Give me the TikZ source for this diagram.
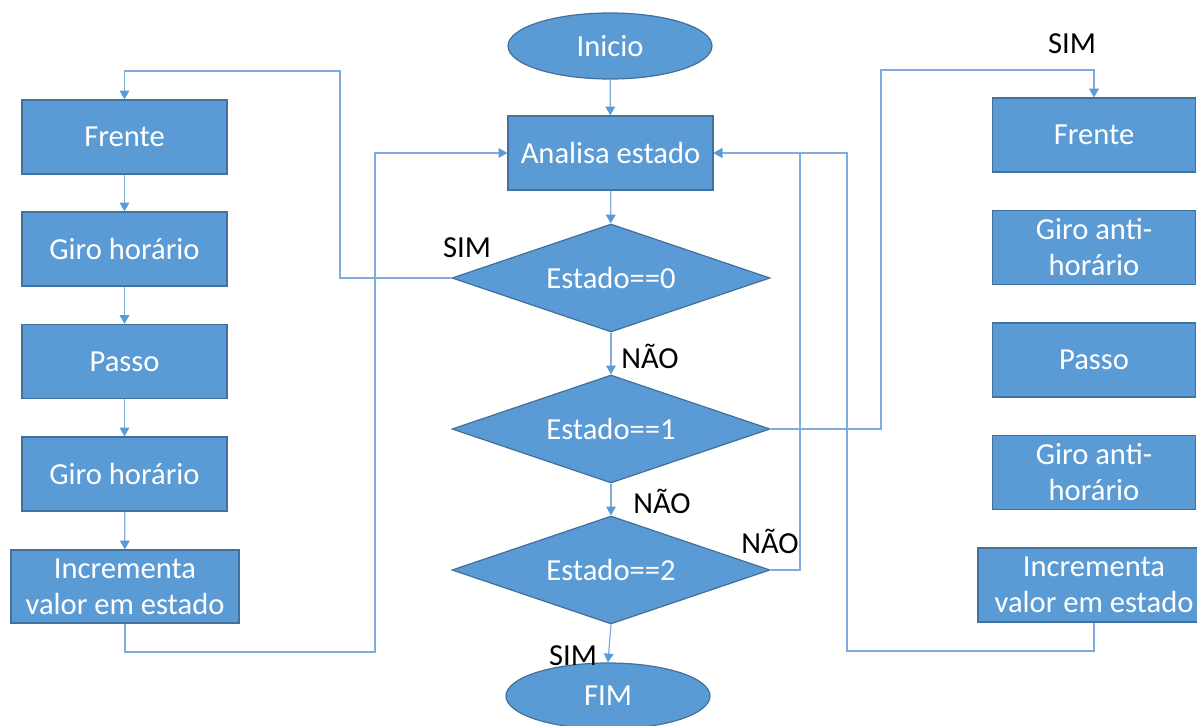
\documentclass[tikz,border=0pt]{standalone}
\usepackage{fontspec}
\setmainfont{Carlito}
\usetikzlibrary{shapes.geometric,arrows.meta}
\definecolor{shapefill}{RGB}{91,155,213}
\definecolor{shapeedge}{RGB}{65,113,156}
\definecolor{wire}{RGB}{125,172,222}
\definecolor{tipblue}{RGB}{91,155,213}
\tikzset{
  txt/.style={font=\fontsize{17.4}{20.5}\selectfont},
  boxnode/.style={txt, draw=shapeedge, fill=shapefill, text=white, line width=0.7pt,
    rectangle, minimum width=4.1cm, minimum height=1.48cm, inner sep=0pt, align=center},
  termnode/.style={txt, draw=shapeedge, fill=shapefill, text=white, line width=0.7pt,
    ellipse, minimum width=4.08cm, minimum height=1.32cm, inner sep=0pt},
  decnode/.style={txt, draw=shapeedge, fill=shapefill, text=white, line width=0.7pt,
    diamond, aspect=2.94, minimum width=6.36cm, minimum height=2.16cm, inner sep=0pt},
  lbl/.style={txt, text=black, inner sep=0pt},
  conn/.style={draw=wire, line width=0.7pt,
    -{Triangle[width=5.5pt,length=5pt,color=tipblue,fill=tipblue]}}
}
\begin{document}
\begin{tikzpicture}[x=0.02cm,y=-0.02cm]
\useasboundingbox (0,0) rectangle (1197,726);

% main column
\node[termnode] (ini) at (610,46) {Inicio};
\node[boxnode, minimum width=4.1cm] (an) at (610.5,153) {Analisa estado};
\node[decnode] (d0) at (611,278) {Estado==0};
\node[decnode] (d1) at (611,429) {Estado==1};
\node[decnode] (d2) at (611,570) {Estado==2};
\node[termnode] (fim) at (608,696) {FIM};

% left column
\node[boxnode] (lf)  at (124.5,137) {Frente};
\node[boxnode] (lg1) at (124.5,249) {Giro horário};
\node[boxnode] (lp)  at (124.5,361.5) {Passo};
\node[boxnode] (lg2) at (124.5,474) {Giro horário};
\node[boxnode, minimum width=4.56cm, minimum height=1.46cm] (li) at (125,586.5) {Incrementa\\valor em estado};

% right column
\node[boxnode, minimum width=4.06cm] (rf)  at (1094,135) {Frente};
\node[boxnode, minimum width=4.06cm] (rg1) at (1094,247.5) {Giro anti-\\horário};
\node[boxnode, minimum width=4.06cm] (rp)  at (1094,360) {Passo};
\node[boxnode, minimum width=4.06cm] (rg2) at (1094,472.5) {Giro anti-\\horário};
\node[boxnode, minimum width=4.64cm, minimum height=1.48cm] (ri) at (1094,585) {Incrementa\\valor em estado};

% bend points of the routed connectors
\coordinate (k0) at (340,71);
\coordinate (k1) at (375,652);
\coordinate (k2) at (881,70);
\coordinate (k3) at (800,153);
\coordinate (k4) at (847,651);

% main flow
\draw[conn] (ini) -- (an);
\draw[conn] (an) -- (d0);
\draw[conn] (d0) -- (d1);
\draw[conn] (d1) -- (d2);
\draw[conn] (d2.south) -- (fim.north);

% left branch
\draw[conn] (d0.west) -| (k0) -| (lf.north);
\draw[conn] (lf) -- (lg1);
\draw[conn] (lg1) -- (lp);
\draw[conn] (lp) -- (lg2);
\draw[conn] (lg2) -- (li);
\draw[conn] (li.south) |- (k1) |- (an.west);

% right branch
\draw[conn] (d1.east) -| (k2) -| (rf.north);
\draw[conn] (d2.east) -| (k3) -- (an.east);
\draw[conn] (ri.south) |- (k4) |- (an.east);

% branch labels
\node[lbl] (s0) at (467,248) {SIM};
\node[lbl] (n0) at (650,356) {NÃO};
\node[lbl] (n1) at (662,501) {NÃO};
\node[lbl] (n2) at (770,541) {NÃO};
\node[lbl] (s2) at (573,656) {SIM};
\node[lbl] (s1) at (1072,44) {SIM};
\end{tikzpicture}
\end{document}
